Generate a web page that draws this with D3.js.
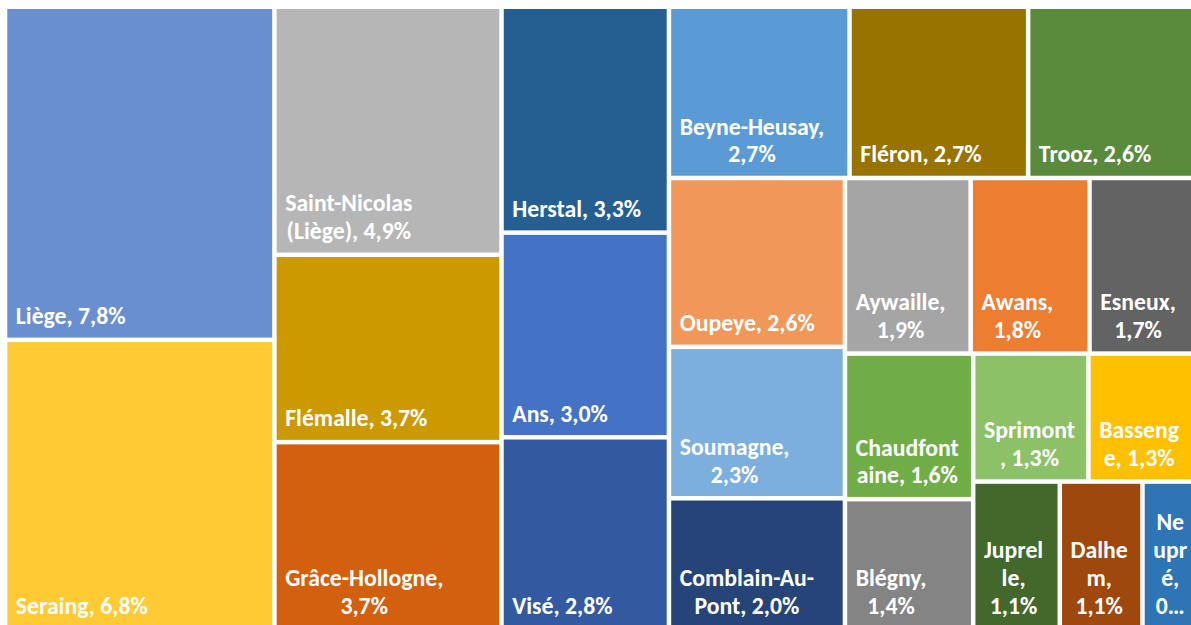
<!DOCTYPE html>
<html><head><meta charset="utf-8">
<script src="https://cdn.jsdelivr.net/npm/d3@7"></script>
<style>html,body{margin:0;padding:0;background:#fff;overflow:hidden}</style>
</head><body>
<svg id="chart" width="1191" height="625"></svg>
<script>
// ---- data (share of total, %) ----
const communes = ["Liège","Seraing","Saint-Nicolas (Liège)","Flémalle","Grâce-Hollogne","Herstal","Ans","Visé",
  "Beyne-Heusay","Fléron","Trooz","Oupeye","Soumagne","Comblain-Au-Pont","Aywaille","Awans","Esneux",
  "Chaudfontaine","Blégny","Sprimont","Bassenge","Juprelle","Dalhem","Neupré"];
const shares = [7.79,6.76,4.92,3.749,3.70,3.30,3.02,2.80,
  2.69,2.66,2.575,2.62,2.349,1.997,1.945,1.84,1.725,
  1.645,1.445,1.30,1.27,1.11,1.06,0.75];
const colors = ["#6A8FD0","#FFCA33","#B6B6B6","#CC9900","#D2600F","#255E91","#4472C4","#335AA1",
  "#5B9BD5","#997300","#5A8A3C","#F1975A","#7CAFDD","#264478","#A5A5A5","#ED7D31","#636363",
  "#70AD47","#848484","#8CC168","#FFC000","#43682B","#9E480E","#2E75B6"];

// ---- layout / style ----
const X0 = 7.3, Y0 = 9, W = 1193.7, H = 618, GAP = 4.5;
const PAD = 8.5, WRAP_PAD = 9.7, LINE_H = 27.7, BASE_OFF = 13.5;
const FONT = "Carlito, Lato, 'Open Sans', sans-serif";
// approximate Calibri Bold advance widths (em) used for Excel-like line breaking
const CAL = {" ":.226,"(":.303,")":.303,",":.258,"-":.306,"%":.729,"…":.69,
  "A":.606,"B":.561,"C":.529,"D":.630,"E":.488,"F":.459,"G":.637,"H":.631,"J":.331,"L":.420,"N":.659,
  "O":.676,"P":.532,"S":.473,"T":.495,"V":.592,
  "a":.494,"b":.537,"c":.418,"d":.537,"e":.503,"f":.316,"g":.474,"h":.537,"i":.246,"l":.246,"m":.813,
  "n":.537,"o":.538,"p":.537,"r":.355,"s":.399,"t":.347,"u":.537,"w":.745,"x":.459,"y":.474,"z":.397,
  "é":.503,"è":.503,"â":.494};
const CAL_SIZE = 23.6;
const cw = s => { let w = 0; for (const ch of s) w += (CAL[ch] ?? (/\d/.test(ch) ? .507 : .5)); return w * CAL_SIZE; };

// squarified tiling (Excel-like aspect target)
function excelSquarify(parent, x0, y0, x1, y1) {
  const nodes = parent.children, n = nodes.length, ratio = 1.05;
  let i0 = 0, i1 = 0, value = parent.value;
  while (i0 < n) {
    const dx = x1 - x0, dy = y1 - y0;
    let sumValue = nodes[i1++].value, minValue = sumValue, maxValue = sumValue;
    const alpha = Math.max(dy / dx, dx / dy) / (value * ratio);
    let beta = sumValue * sumValue * alpha;
    let minRatio = Math.max(maxValue / beta, beta / minValue);
    for (; i1 < n; ++i1) {
      const nv = nodes[i1].value;
      const s = sumValue + nv;
      const mn = Math.min(minValue, nv), mx = Math.max(maxValue, nv);
      beta = s * s * alpha;
      const r = Math.max(mx / beta, beta / mn);
      if (r > minRatio) break;
      sumValue = s; minValue = mn; maxValue = mx; minRatio = r;
    }
    const row = {value: sumValue, children: nodes.slice(i0, i1)};
    if (dx < dy * 0.95) {
      const yb = y0 + dy * sumValue / value;
      d3.treemapDice(row, x0, y0, x1, yb);
      y0 = yb;
    } else {
      const xb = x0 + dx * sumValue / value;
      d3.treemapSlice(row, x0, y0, xb, y1);
      x0 = xb;
    }
    value -= sumValue; i0 = i1;
  }
}

const root = d3.hierarchy({children: communes.map((c, i) => ({name: c, value: shares[i], color: colors[i]}))})
  .sum(d => d.value || 0);
d3.treemap().size([W, H]).tile(excelSquarify)(root);

const svg = d3.select("#chart");
svg.append("rect").attr("width", 1191).attr("height", 625).attr("fill", "#fff");
const g = svg.append("g").attr("transform", `translate(${X0},${Y0})`);

// rendered-font measurement (for centring lines)
const meas = svg.append("text").attr("font-family", FONT).attr("font-weight", 700)
  .attr("x", -1000).attr("y", -1000);
function textW(s, size) { meas.attr("font-size", size).text(s); return meas.node().getComputedTextLength(); }
const fontSize = 100 * 127.3 / textW("Saint-Nicolas", 100);
const mw = s => textW(s, fontSize);

const fmt = v => d3.format(".1f")(v).replace(".", ",") + "%";

function wrap(text, maxW) {
  const lines = []; let line = "";
  text.split(" ").forEach(word => {
    const pieces = word.split(/(?<=-)/);
    pieces.forEach((p, pi) => {
      const sep = (pi === 0 && line !== "") ? " " : "";
      const cand = line + sep + p;
      if (cw(cand) <= maxW) { line = cand; return; }
      if (line !== "") { lines.push(line); line = ""; }
      let rest = p;
      while (rest.length > 1 && cw(rest) > maxW) {
        let k = rest.length - 1;
        while (k > 1 && cw(rest.slice(0, k)) > maxW) k--;
        lines.push(rest.slice(0, k)); rest = rest.slice(k);
      }
      line = rest;
    });
  });
  if (line) lines.push(line);
  return lines;
}

const eps = 0.01;
root.leaves().forEach(leaf => {
  const x0 = leaf.x0 + (leaf.x0 > eps ? GAP / 2 : 0);
  const x1 = leaf.x1 - (leaf.x1 < W - eps ? GAP / 2 : 0);
  const y0 = leaf.y0 + (leaf.y0 > eps ? GAP / 2 : 0);
  const y1 = leaf.y1 - (leaf.y1 < H - eps ? GAP / 2 : 0);
  g.append("rect").attr("x", x0).attr("y", y0).attr("width", x1 - x0).attr("height", y1 - y0)
    .attr("fill", leaf.data.color);

  const innerW = (x1 - x0) - 2 * WRAP_PAD;
  const innerH = (y1 - y0) - 2 * 9;
  let lines = wrap(`${leaf.data.name}, ${fmt(leaf.data.value)}`, innerW);
  const maxLines = Math.max(1, Math.floor(innerH / LINE_H));
  if (lines.length > maxLines) {
    lines = lines.slice(0, maxLines);
    let s = lines[maxLines - 1];
    while (s.length > 0 && cw(s + "…") > innerW) s = s.slice(0, -1);
    s = s.replace(/[,\s]+$/, "");
    lines[maxLines - 1] = s + "…";
  }
  const blockW = d3.max(lines, l => mw(l));
  const cx = x0 + PAD + blockW / 2;
  const t = g.append("text").attr("font-family", FONT).attr("font-weight", 700)
    .attr("font-size", fontSize).attr("fill", "#fff").attr("text-anchor", "middle");
  lines.forEach((l, i) => {
    t.append("tspan").attr("x", cx).attr("y", y1 - BASE_OFF - (lines.length - 1 - i) * LINE_H).text(l);
  });
});
meas.remove();
</script>
</body></html>
